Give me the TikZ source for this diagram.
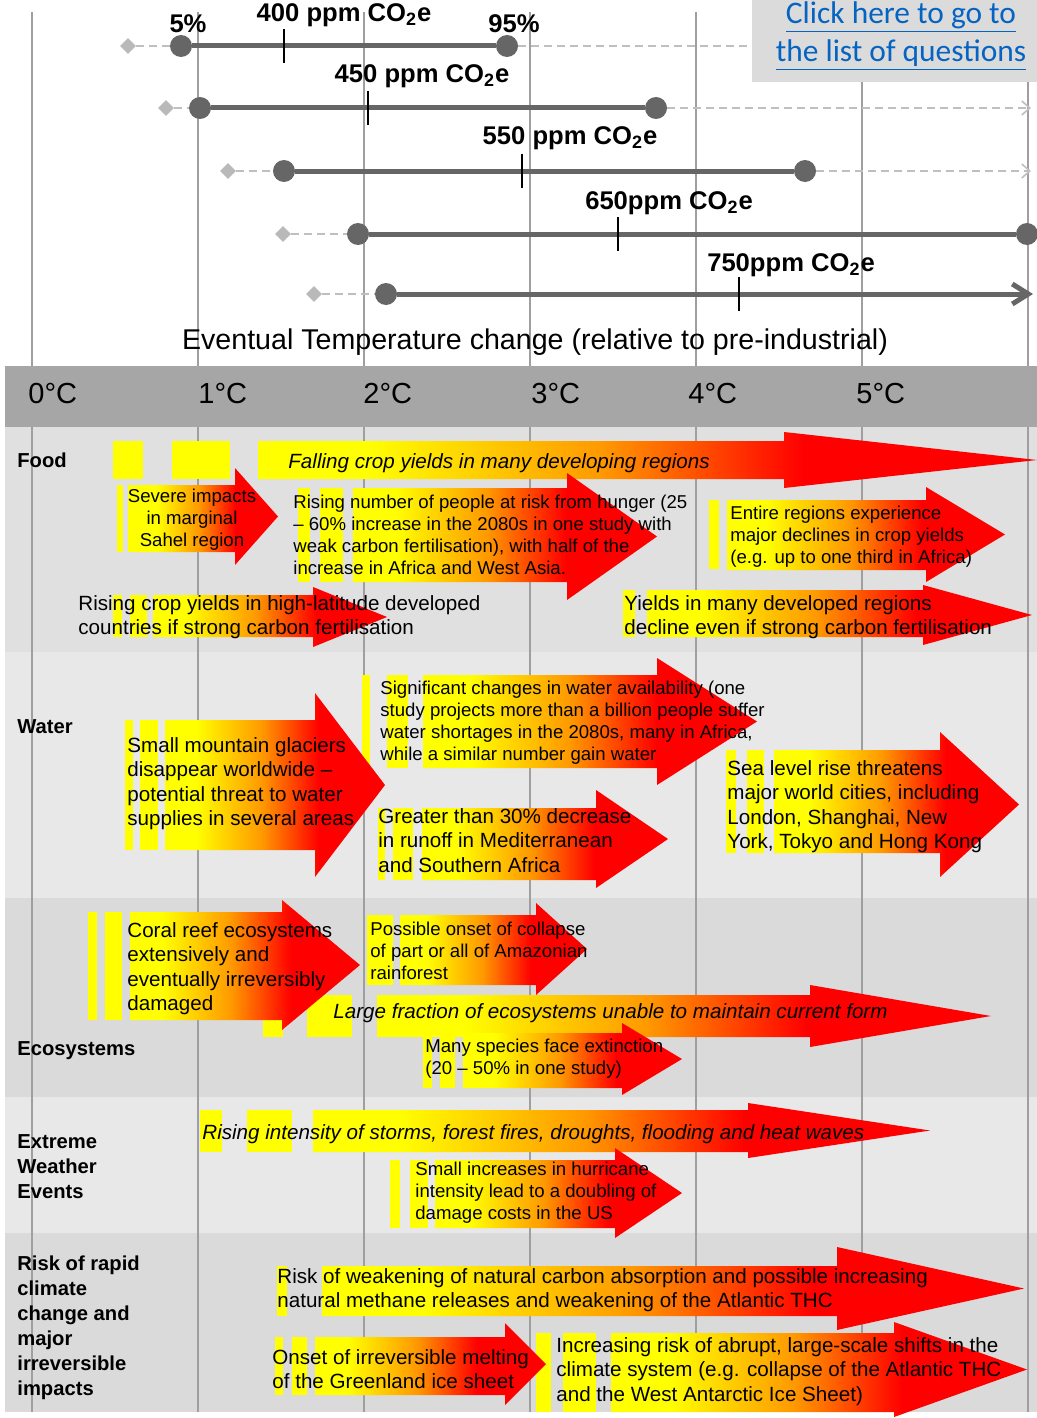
\documentclass[tikz,border=0pt]{standalone}
\usepackage{fontspec}
\setmainfont{Liberation Sans}
\newfontfamily\linkfont{Carlito}
\usetikzlibrary{shapes.geometric,arrows.meta}
\definecolor{heatyellow}{HTML}{FFFF00}
\definecolor{heatorange}{HTML}{FF9900}
\definecolor{heatred}{HTML}{FF0000}
\definecolor{rangegray}{HTML}{666666}
\definecolor{linkblue}{HTML}{0563C1}
\pgfdeclarehorizontalshading{heat}{100bp}{color(0bp)=(heatyellow); color(32bp)=(heatyellow); color(47bp)=(heatorange); color(60bp)=(heatred); color(100bp)=(heatred)}

\begin{document}
\begin{tikzpicture}[x=0.5pt,y=-0.5pt,
  bigtext/.style={font=\fontsize{10.3}{12.3}\selectfont,align=left,inner sep=0pt,anchor=base west},
  smalltext/.style={font=\fontsize{9.3}{11}\selectfont,align=left,inner sep=0pt,anchor=base west},
  rowlab/.style={font=\bfseries\fontsize{10.1}{12.5}\selectfont,align=left,inner sep=0pt,anchor=base west},
  tempmark/.style={font=\fontsize{14.5}{16}\selectfont,inner sep=0pt,anchor=west},
  ppmlab/.style={font=\bfseries\fontsize{12.8}{14}\selectfont,inner sep=0pt},
  dotnode/.style={circle,fill=rangegray,inner sep=0pt,minimum size=11pt},
  gemnode/.style={diamond,fill=gray!55,inner sep=0pt,minimum size=8pt},
  spanline/.style={rangegray,line width=2.5pt},
  hintline/.style={gray!50,line width=0.8pt,dash pattern=on 4pt off 2.5pt},
  gridline/.style={gray!75,line width=0.7pt}]
  \useasboundingbox (0,0) rectangle (1037,1418);
  \fill[white] (0,0) rectangle (1037,1418);
  \fill[gray!70] (5,366) rectangle (1037,427);
  \fill[gray!24] (5,427) rectangle (1037,652);
  \fill[gray!18] (5,652) rectangle (1037,898);
  \fill[gray!29] (5,898) rectangle (1037,1097);
  \fill[gray!18] (5,1097) rectangle (1037,1233);
  \fill[gray!29] (5,1233) rectangle (1037,1412);
  \foreach \k in {0,...,6} {
    \draw[gridline] ({32+166*\k},12) -- ({32+166*\k},366);
    \draw[gridline] ({32+166*\k},427) -- ({32+166*\k},1412);
  }

  \node[gemnode] (g1) at (128,46) {};
  \node[gemnode] (g2) at (166,108) {};
  \node[gemnode] (g3) at (228,171) {};
  \node[gemnode] (g4) at (283,234) {};
  \node[gemnode] (g5) at (314,294) {};
  \node[dotnode] (a1) at (181,46) {};
  \node[dotnode] (a2) at (200,108) {};
  \node[dotnode] (a3) at (284,171) {};
  \node[dotnode] (a4) at (358,234) {};
  \node[dotnode] (a5) at (386,294) {};
  \node[dotnode] (b1) at (507,46) {};
  \node[dotnode] (b2) at (656,108) {};
  \node[dotnode] (b3) at (805,171) {};
  \node[dotnode] (b4) at (1027,234) {};
  \coordinate (e1) at (1031,46);
  \coordinate (e2) at (1031,108);
  \coordinate (e3) at (1031,171);
  \coordinate (e5) at (1033,294);
  \foreach \i in {1,...,5} \draw[hintline] (g\i) -- (a\i);
  \foreach \i in {1,...,4} \draw[spanline] (a\i) -- (b\i);
  \foreach \i in {1,2,3} \draw[hintline,-{Straight Barb[length=4pt,width=7pt]}] (b\i) -- (e\i);
  \draw[spanline,-{Straight Barb[length=8pt,width=10pt]}] (a5) -- (e5);
  \foreach \x/\y in {284/46,368/108,522/171,618/234,739/294}
    \draw[line width=0.7pt] (\x,\y-17) -- (\x,\y+17);

  \node[ppmlab] (p400) at (344,15) {400 ppm CO\textsubscript{2}e};
  \node[ppmlab] (p5) at (188,24) {5\%};
  \node[ppmlab] (p95) at (514,24) {95\%};
  \node[ppmlab] (p450) at (422,76) {450 ppm CO\textsubscript{2}e};
  \node[ppmlab] (p550) at (570,138) {550 ppm CO\textsubscript{2}e};
  \node[ppmlab] (p650) at (669,203) {650ppm CO\textsubscript{2}e};
  \node[ppmlab] (p750) at (791,265) {750ppm CO\textsubscript{2}e};
  \node[font=\fontsize{14.3}{16}\selectfont,inner sep=0pt] (title) at (535,342)
    {Eventual Temperature change (relative to pre-industrial)};

  \fill[gray!28] (752,0) rectangle (1037,82);
  \node[font=\linkfont\fontsize{15.7}{19}\selectfont,text=linkblue,align=center,inner sep=0pt] (qlink) at (901,36)
    {\underline{Click here to go to}\\\underline{the list of questions}};

  \node[tempmark] (t0) at (28,394) {0°C};
  \node[tempmark] (t1) at (198,394) {1°C};
  \node[tempmark] (t2) at (363,394) {2°C};
  \node[tempmark] (t3) at (531,394) {3°C};
  \node[tempmark] (t4) at (688,394) {4°C};
  \node[tempmark] (t5) at (856,394) {5°C};

  \foreach \xa/\ya/\xb/\yb in {113/441/143/479, 172/441/230/479,
      117/485/123/552, 128/485/137/552, 298/488/310/582, 320/488/343/582,
      709/500/719/569, 113/595/122/637, 130/595/147/637, 623/590/635/637,
      125/720/133/850, 140/720/158/850, 362/675/370/770, 387/675/408/768,
      378/808/385/880, 393/808/413/880, 726/750/736/853, 747/750/764/853,
      88/912/97/1020, 105/912/122/1020, 263/1020/283/1037, 367/915/393/985,
      307/995/352/1037, 423/1033/432/1088, 440/1033/455/1088,
      200/1110/222/1152, 247/1110/292/1152, 390/1160/400/1228, 410/1160/428/1228,
      277/1266/287/1316, 275/1337/283/1395, 292/1337/307/1395,
      536/1333/551/1412, 563/1333/596/1412}
    \fill[heatyellow] (\xa,\ya) rectangle (\xb,\yb);
  \foreach \ua/\ub/\uc/\ud/\ue/\uf/\ug in {258/441/479/784/432/488/1037,
      137/485/552/235/468/565/278, 353/488/582/567/473/600/657,
      727/500/570/926/487/582/1005, 153/595/637/313/587/647/387,
      647/590/637/923/585/645/1032,
      165/720/850/315/693/877/385, 423/675/768/657/658/785/757,
      422/808/880/596/790/888/668, 774/750/853/940/732/877/1019,
      130/912/1020/282/900/1030/360, 400/915/985/536/903/995/587,
      377/995/1037/810/985/1047/991, 463/1033/1088/622/1023/1095/682,
      313/1110/1152/748/1103/1158/930, 435/1160/1228/615/1148/1238/682,
      322/1266/1316/837/1247/1330/1024, 315/1337/1395/505/1323/1405/546,
      611/1333/1412/894/1322/1417/1027}
    \shade[shading=heat] (\ua,\ub) -- (\ud,\ub) -- (\ud,\ue) -- (\ug,{(\ue+\uf)/2})
      -- (\ud,\uf) -- (\ud,\uc) -- (\ua,\uc) -- cycle;

  \node[rowlab] (food) at (17,467) {Food};
  \node[rowlab] (water) at (17,733) {Water};
  \node[rowlab] (eco) at (17,1055) {Ecosystems};
  \node[rowlab] (weather) at (17,1198) {Extreme\\Weather\\Events};
  \node[rowlab] (abrupt) at (17,1395) {Risk of rapid\\climate\\change and\\major\\irreversible\\impacts};

  \node[bigtext,font=\itshape\fontsize{10.3}{12.3}\selectfont] (falling) at (288,468) {Falling crop yields in many developing regions};
  \node[smalltext,align=center,anchor=base] (sahel) at (192,546) {Severe impacts\\in marginal\\Sahel region};
  \node[smalltext] (hunger) at (293,574) {Rising number of people at risk from hunger (25\\– 60\% increase in the 2080s in one study with\\weak carbon fertilisation), with half of the\\increase in Africa and West Asia.};
  \node[smalltext] (declines) at (730,563) {Entire regions experience\\major declines in crop yields\\(e.g. up to one third in Africa)};
  \node[bigtext] (rising) at (78,634.6) {Rising crop yields in high-latitude developed\\countries if strong carbon fertilisation};
  \node[bigtext] (yields) at (624,634.6) {Yields in many developed regions\\decline even if strong carbon fertilisation};

  \node[bigtext] (glaciers) at (127,825.8) {Small mountain glaciers\\disappear worldwide –\\potential threat to water\\supplies in several areas};
  \node[smalltext] (availability) at (380,760) {Significant changes in water availability (one\\study projects more than a billion people suffer\\water shortages in the 2080s, many in Africa,\\while a similar number gain water};
  \node[bigtext] (runoff) at (378,872.2) {Greater than 30\% decrease\\in runoff in Mediterranean\\and Southern Africa};
  \node[bigtext] (sealevel) at (727,848.8) {Sea level rise threatens\\major world cities, including\\London, Shanghai, New\\York, Tokyo and Hong Kong};

  \node[bigtext] (coral) at (127,1010.8) {Coral reef ecosystems\\extensively and\\eventually irreversibly\\damaged};
  \node[smalltext] (amazon) at (370,979) {Possible onset of collapse\\of part or all of Amazonian\\rainforest};
  \node[bigtext,font=\itshape\fontsize{10.3}{12.3}\selectfont] (fraction) at (333,1018) {Large fraction of ecosystems unable to maintain current form};
  \node[smalltext] (species) at (425,1074) {Many species face extinction\\(20 – 50\% in one study)};

  \node[bigtext,font=\itshape\fontsize{10.3}{12.3}\selectfont] (storms) at (202,1139) {Rising intensity of storms, forest fires, droughts, flooding and heat waves};
  \node[smalltext] (hurricane) at (415,1219) {Small increases in hurricane\\intensity lead to a doubling of\\damage costs in the US};

  \node[bigtext] (carbon) at (277,1307.6) {Risk of weakening of natural carbon absorption and possible increasing\\natural methane releases and weakening of the Atlantic THC};
  \node[bigtext] (greenland) at (272,1388.6) {Onset of irreversible melting\\of the Greenland ice sheet};
  \node[bigtext] (shifts) at (556,1401.2) {Increasing risk of abrupt, large-scale shifts in the\\climate system (e.g. collapse of the Atlantic THC\\and the West Antarctic Ice Sheet)};
\end{tikzpicture}
\end{document}
